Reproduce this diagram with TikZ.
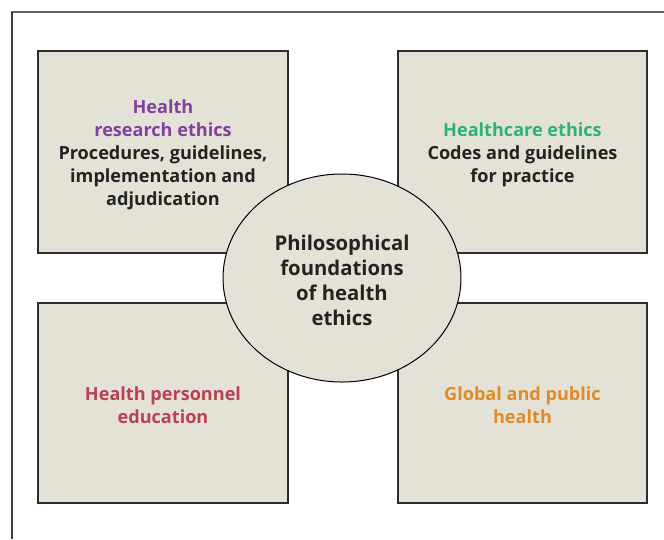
\documentclass[tikz,border=0pt]{standalone}
\usepackage{fontspec}
\setmainfont{Open Sans}
\usetikzlibrary{shapes.geometric}
\definecolor{boxfill}{RGB}{228,225,214}
\definecolor{boxline}{RGB}{45,45,45}
\definecolor{purp}{RGB}{128,64,160}
\definecolor{grn}{RGB}{45,178,118}
\definecolor{redc}{RGB}{183,66,82}
\definecolor{orng}{RGB}{220,140,42}
\definecolor{txt}{RGB}{35,35,35}
\begin{document}
\begin{tikzpicture}[x=1pt,y=-1pt,
  panel/.style={draw=boxline,line width=1.3pt,fill=boxfill},
  label/.style={align=center,font=\fontsize{18.1}{23}\selectfont\bfseries,text=txt,yshift=-2.5pt},
  frameline/.style={line width=1.3pt}]
\useasboundingbox (0,0) rectangle (664,539);
\draw[frameline,draw={rgb,255:red,100;green,100;blue,100}] (11,12) -- (664,12);
\draw[frameline,draw={rgb,255:red,60;green,60;blue,60}] (12,12) -- (12,539);
\node[panel,minimum width=250pt,minimum height=202pt,inner sep=0pt] (tl) at (163,152) {};
\node[panel,minimum width=249pt,minimum height=202pt,inner sep=0pt] (tr) at (522.5,152) {};
\node[panel,minimum width=250pt,minimum height=200pt,inner sep=0pt] (bl) at (163,403) {};
\node[panel,minimum width=249pt,minimum height=200pt,inner sep=0pt] (br) at (522.5,403) {};
\node[label] (tlt) at (tl.center) {\textcolor{purp}{Health}\\\textcolor{purp}{research ethics}\\Procedures, guidelines,\\implementation and\\adjudication};
\node[label] (trt) at (tr.center) {\textcolor{grn}{Healthcare ethics}\\Codes and guidelines\\for practice};
\node[label,text=redc] (blt) at (bl.center) {Health personnel\\education};
\node[label,text=orng] (brt) at (br.center) {Global and public\\health};
\node[ellipse,draw=black,line width=1pt,fill=boxfill,minimum width=238pt,minimum height=208pt,inner sep=0pt] (ell) at (342,278) {};
\node[label,font=\fontsize{20.3}{25}\selectfont\bfseries] (ellt) at (ell.center) {Philosophical\\foundations\\of health\\ethics};
\end{tikzpicture}
\end{document}
